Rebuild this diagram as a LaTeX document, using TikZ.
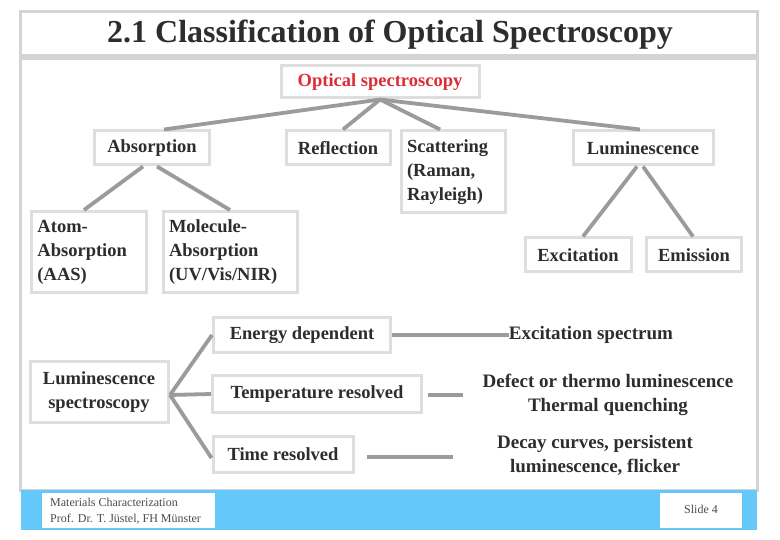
\documentclass[tikz,border=0pt]{standalone}
\usepackage{fontspec}
\setmainfont{Liberation Serif}
\usetikzlibrary{calc}
\definecolor{footblue}{RGB}{100,200,250}
\definecolor{framegray}{RGB}{212,212,212}
\definecolor{boxgray}{RGB}{222,222,222}
\definecolor{linkgray}{RGB}{155,155,155}
\definecolor{txtgray}{RGB}{45,45,45}
\definecolor{osred}{RGB}{220,45,55}
\tikzset{
  box/.style={draw=boxgray, line width=3pt, fill=white, inner sep=2pt,
    font=\fontsize{18.5}{24}\selectfont\bfseries, text=txtgray, align=center},
  boxl/.style={box, align=left},
  side/.style={inner sep=0pt, font=\fontsize{19}{24}\selectfont\bfseries, text=txtgray, align=center},
  link/.style={draw=linkgray, line width=3.8pt},
  foot/.style={inner sep=0pt, font=\fontsize{12}{16}\selectfont, text=black!70, align=left}
}
\begin{document}
\begin{tikzpicture}[x=1pt,y=-1pt]
\useasboundingbox (0,0) rectangle (780,540);
\fill[white] (0,0) rectangle (780,540);
% frames
\draw[framegray, line width=3pt] (20,12) rectangle (757,490);
\draw[framegray, line width=6pt] (20,57) -- (757,57);
\node[inner sep=0pt, font=\fontsize{32}{36}\selectfont\bfseries, text=txtgray] (title) at (390,35) {2.1 Classification of Optical Spectroscopy};
% footer
\fill[footblue] (21,490) rectangle (757,530);
\fill[white] (42,493) rectangle (215,528);
\fill[white] (660,493) rectangle (742,528);
\node[foot, anchor=west] (f1) at (50,511) {Materials Characterization\\Prof. Dr. T. Jüstel, FH Münster};
\node[foot] (f2) at (701,509) {Slide 4};
% tree
\node[box, text=osred, minimum width=198pt, minimum height=32pt] (os) at (380,82) {Optical spectroscopy};
\node[box, minimum width=115pt, minimum height=34pt] (abs) at (152,148) {Absorption};
\node[box, minimum width=104pt, minimum height=34pt] (refl) at (338,148) {Reflection};
\node[boxl, minimum width=104pt, minimum height=82pt, text width=92pt] (scat) at (453,172) {Scattering\\(Raman,\\Rayleigh)};
\node[box, minimum width=140pt, minimum height=34pt] (lum) at (643,148) {Luminescence};
\node[boxl, minimum width=115pt, minimum height=81pt, text width=103pt] (atom) at (89,252) {Atom-\\Absorption\\(AAS)};
\node[boxl, minimum width=134pt, minimum height=81pt, text width=122pt] (mol) at (230,252) {Molecule-\\Absorption\\(UV/Vis/NIR)};
\node[box, minimum width=106pt, minimum height=34pt] (exc) at (578,255) {Excitation};
\node[box, minimum width=95pt, minimum height=34pt] (emi) at (694,255) {Emission};
\draw[link] (os.south) -- ([xshift=12pt]abs.north);
\draw[link] (os.south) -- ([xshift=5pt]refl.north);
\draw[link] (os.south) -- ([xshift=-13pt]scat.north);
\draw[link] (os.south) -- ([xshift=-3pt]lum.north);
\draw[link] ([xshift=-9pt]abs.south) -- ([xshift=-5pt]atom.north);
\draw[link] ([xshift=5pt]abs.south) -- ([xshift=0pt]mol.north);
\draw[link] ([xshift=-6pt]lum.south) -- ([xshift=5pt]exc.north);
\draw[link] ([xshift=0pt]lum.south) -- ([xshift=-1pt]emi.north);
% luminescence spectroscopy
\node[box, minimum width=138pt, minimum height=61pt] (ls) at (99,392) {Luminescence\\spectroscopy};
\node[box, minimum width=177pt, minimum height=35pt] (en) at (302,335) {Energy dependent};
\node[box, minimum width=209pt, minimum height=36pt] (tr) at (317,394) {Temperature resolved};
\node[box, minimum width=140pt, minimum height=36pt] (ti) at (283,454) {Time resolved};
\coordinate (j) at (170,395);
\draw[link] (j) -- ([yshift=0pt]en.west);
\draw[link] (j) -- (tr.west);
\draw[link] (j) -- ([yshift=-4pt]ti.west);
\node[side] (t1) at (591,335) {Excitation spectrum};
\node[side] (t2) at (608,395) {Defect or thermo luminescence\\Thermal quenching};
\node[side] (t3) at (595,455) {Decay curves, persistent\\luminescence, flicker};
\coordinate (c2a) at (428,395);
\coordinate (c2b) at (463,395);
\coordinate (c3a) at (367,457);
\coordinate (c3b) at (453,457);
\draw[link] (en.east) -- (t1.west);
\draw[link] (c2a) -- (c2b);
\draw[link] (c3a) -- (c3b);
\end{tikzpicture}
\end{document}
